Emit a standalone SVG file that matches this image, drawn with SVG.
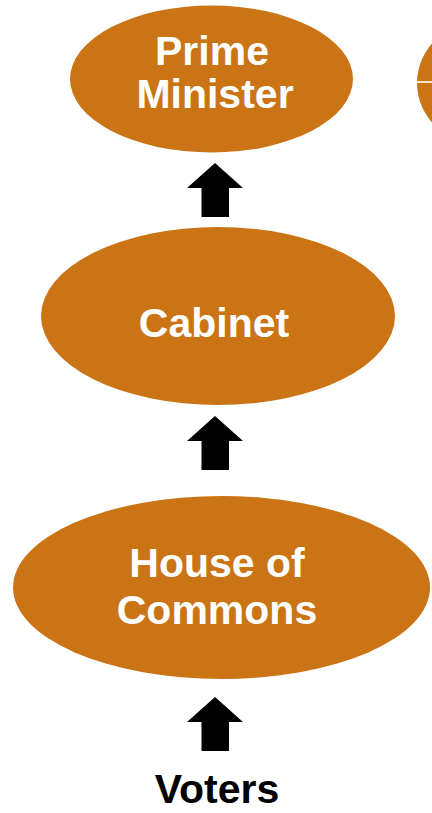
<svg xmlns="http://www.w3.org/2000/svg" xmlns:xlink="http://www.w3.org/1999/xlink" width="432" height="813" viewBox="0 0 432 813">
<style>
.node{fill:#CB7416;}
.lbl{font-family:"Liberation Sans",Arial,sans-serif;font-weight:bold;fill:#ffffff;text-anchor:middle;font-size:41px;}
.plain{font-family:"Liberation Sans",Arial,sans-serif;font-weight:bold;fill:#000000;text-anchor:middle;font-size:41px;}
.arrow{fill:#000000;}
</style>
<defs>
<polygon id="up" points="0,0 28,25 14,25 14,54 -13.5,54 -13.5,25 -28,25"/>
</defs>
<rect x="0" y="0" width="432" height="813" fill="#ffffff"/>
<g id="partial">
<ellipse class="node" cx="487" cy="83" rx="70" ry="64"/>
<line x1="416" y1="82" x2="432" y2="82" stroke="#ffffff" stroke-width="1.6"/>
</g>
<g id="pm">
<ellipse class="node" cx="211.5" cy="79" rx="141.5" ry="73.5"/>
<text class="lbl" x="212" y="65">Prime</text>
<text class="lbl" x="215" y="108">Minister</text>
</g>
<g id="cabinet">
<ellipse class="node" cx="218" cy="316" rx="177" ry="89"/>
<text class="lbl" x="214" y="337">Cabinet</text>
</g>
<g id="commons">
<ellipse class="node" cx="221.5" cy="587.5" rx="208.5" ry="91.5"/>
<text class="lbl" x="217" y="577">House of</text>
<text class="lbl" x="217" y="624">Commons</text>
</g>
<g id="voters">
<text class="plain" x="217" y="803">Voters</text>
</g>
<g id="connectors" class="arrow">
<use xlink:href="#up" x="215" y="163"/>
<use xlink:href="#up" x="215" y="416"/>
<use xlink:href="#up" x="215" y="697"/>
</g>
</svg>
